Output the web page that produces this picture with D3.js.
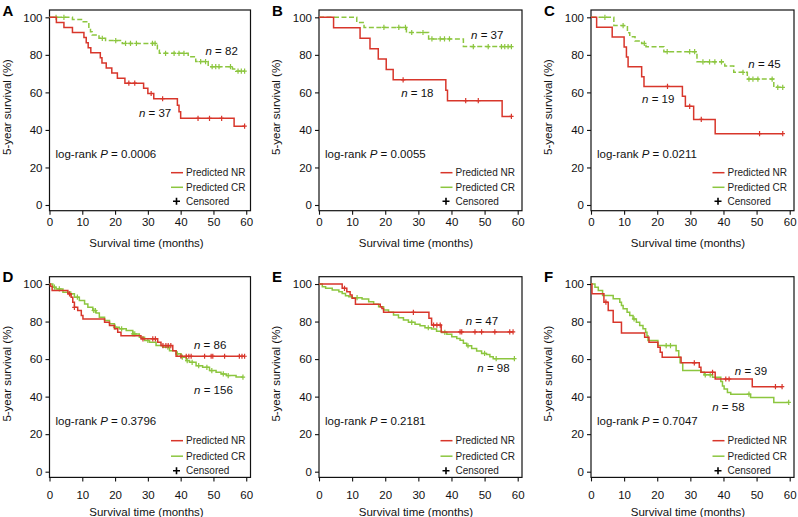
<!DOCTYPE html>
<html><head><meta charset="utf-8">
<script src="https://cdn.jsdelivr.net/npm/d3@7"></script>
<style>
body{margin:0;background:#fff;}
svg{display:block;font-family:"Liberation Sans",Arial,Helvetica,sans-serif;}
</style></head>
<body><svg id="c" width="798" height="517"></svg>
<script>
// ---------- DATA ----------
const panelIds = ["A","B","C","D","E","F"];
const pValues = ["0.0006","0.0055","0.0211","0.3796","0.2181","0.7047"];
const nNR = [37,18,19,86,47,39];
const nCR = [82,37,45,156,98,58];
const xTicks = [0,10,20,30,40,50,60];
const yTicks = [0,20,40,60,80,100];
const seriesNames = ["Predicted NR","Predicted CR","Censored"];

// Panel A
const aNrT = [2.1,4.4,7.0,10.5,11.2,11.8,12.6,15.5,16.0,17.3,19.0,20.7,23.0,28.7,30.0,31.8,39.0,39.5,40.0,56.3];
const aNrS = [97.3,94.6,91.9,89.2,86.5,83.8,81.1,78.4,75.7,73.0,70.3,67.6,64.9,62.2,59.4,56.6,53.2,49.7,46.2,42.0];
const aNrC = [24.2,26.0,31.0,34.5,45.3,48.8,52.5,59.5];
const aCrT = [7.0,10.0,12.0,12.5,13.0,15.1,17.1,22.2,32.9,33.5,42.3,44.6,48.4,55.8,56.8];
const aCrS = [98.8,97.6,94.1,92.3,90.6,88.8,87.6,86.1,82.6,80.8,79.0,76.4,73.7,72.5,71.3];
const aCrC = [2.0,4.4,16.1,20.2,23.2,24.7,26.5,31.4,32.2,35.4,38.0,39.5,41.0,46.1,47.6,49.6,50.7,51.7,55.2,57.5,58.5,59.5];
// Panel B
const bNrT = [4.4,12.4,15.4,17.9,20.3,22.4,38.3,38.8,55.3];
const bNrS = [94.4,88.9,83.3,77.8,72.2,66.7,61.1,55.6,47.2];
const bNrC = [25.4,44.3,48.1,58.1];
const bCrT = [11.4,13.6,26.4,33.1,43.6];
const bCrS = [97.3,94.6,91.9,88.5,84.4];
const bCrC = [19.6,24.1,26.1,28.0,31.4,34.1,36.6,37.9,39.4,46.6,51.1,55.1,56.1,57.1,58.1];
// Panel C
const cNrT = [1.7,6.4,10.0,10.7,11.2,15.3,16.0,27.6,28.5,31.0,37.5];
const cNrS = [94.7,89.5,84.2,78.9,73.7,68.4,63.2,57.9,52.6,45.6,38.0];
const cNrC = [23.1,29.8,33.3,50.9,57.9];
const cCrT = [6.9,11.0,11.7,13.3,15.3,16.6,22.0,32.0,40.4,43.1,47.2,55.2];
const cCrS = [95.6,91.8,89.7,87.4,86.1,84.3,81.7,76.3,74.0,70.7,67.1,62.7];
const cCrC = [4.2,9.7,16.1,23.0,29.8,31.3,33.8,35.8,37.4,39.4,45.9,47.7,48.9,50.4,54.7,56.4,57.9];
// Panel D
const dNrT = [0.3,0.8,5.6,6.6,7.1,7.6,8.6,9.7,10.2,16.8,18.3,19.8,20.8,21.8,27.9,33.0,34.0,37.6,38.6];
const dNrS = [98.8,96.5,94.8,93.0,90.3,87.6,85.9,83.2,81.4,79.6,77.9,76.1,74.3,72.5,70.8,69.0,67.2,64.5,61.5];
const dNrC = [6.1,7.6,28.5,31.5,32.3,34.6,35.5,36.2,37.0,40.1,41.7,42.5,43.2,47.3,49.3,49.8,53.4,57.9,58.7,59.5];
const dCrT = [1.0,2.0,4.1,6.1,7.6,9.1,10.7,11.7,13.2,14.2,15.2,16.8,18.3,19.8,21.3,23.4,25.4,27.4,29.0,30.5,32.5,34.6,36.6,38.6,40.1,41.7,42.7,44.7,46.7,48.8,50.8,52.3,53.9,56.9];
const dCrS = [98.3,97.4,95.6,94.8,93.0,91.2,89.4,87.6,85.9,84.6,82.3,80.5,78.8,77.0,76.1,75.2,73.4,71.6,69.9,69.0,67.2,66.3,64.5,62.8,61.0,59.2,58.3,56.5,55.6,53.9,53.0,52.1,51.2,50.4];
const dCrC = [1.5,3.0,6.5,8.5,13.5,14.0,20.0,22.0,25.5,26.0,30.0,36.1,39.0,40.5,42.0,43.5,45.5,48.0,49.5,53.0,54.5,59.0];
// Panel E
const eNrT = [7.0,8.4,9.4,10.0,11.0,18.5,19.0,19.5,33.2,34.0,36.9];
const eNrS = [97.7,95.9,94.1,92.4,89.2,87.9,87.0,84.9,81.7,78.1,74.5];
const eNrC = [7.7,28.5,34.6,35.6,36.6,42.6,43.1,47.1,49.1,53.1,57.6,58.6];
const eCrT = [1.0,2.0,4.0,6.0,7.0,8.0,9.0,10.0,13.0,15.0,16.5,18.0,19.5,21.0,22.5,24.0,25.5,27.0,29.0,30.5,32.0,34.0,35.5,37.0,38.6,40.1,41.6,42.6,43.6,44.6,46.1,47.6,49.1,50.6,51.6,52.6];
const eCrS = [98.6,97.7,96.8,95.9,95.0,93.8,93.2,92.7,92.0,90.6,89.2,87.9,86.1,84.9,83.5,82.0,80.8,79.6,78.5,77.8,76.7,76.0,74.9,74.2,73.2,71.9,71.0,70.1,68.4,67.1,65.7,64.3,63.0,62.5,61.2,60.2];
const eCrC = [11.5,28.0,33.0,38.0,45.0,50.0,53.5,59.0];
// Panel F
const fNrT = [0.3,3.9,5.2,6.7,9.2,16.2,17.5,20.2,20.9,21.5,27.2,32.7,33.2,37.5,48.7];
const fNrS = [94.8,90.3,85.9,79.6,73.9,71.6,69.0,66.3,63.6,61.0,58.0,55.6,53.0,49.4,45.3];
const fNrC = [4.5,31.2,36.7,40.7,41.7,55.7,57.7];
const fCrT = [1.2,2.2,3.5,6.7,8.7,9.2,9.7,10.9,11.7,12.7,13.7,14.7,15.7,16.5,16.9,17.2,20.2,25.7,26.5,26.9,27.7,33.2,34.2,36.7,39.2,39.7,40.2,41.2,42.2,48.2,55.2];
const fCrS = [98.3,96.5,93.9,92.1,90.3,88.5,86.8,85.0,83.2,81.4,79.6,77.9,76.1,74.3,72.5,69.9,67.2,64.5,61.0,58.0,53.9,53.0,51.6,50.3,48.0,45.6,44.0,42.2,41.3,39.6,36.9];
const fCrC = [13.0,22.7,24.0,34.5,36.0,47.7,59.7];

// ---------- LAYOUT (positions / styles) ----------
const RED = "#d8362b", GREEN = "#8cc63f";
const colLeft = [49.5, 319, 591], colW = [201, 203, 203];
const rowTop = [10, 276.7], plotH = 200.7;
const xTickLabelDy = [11, 17.6], xTitleDy = [32.6, 34.3];
const legendDy = [[-32.3,-17.7,-3.7],[-31,-15.5,-1]];
// n label positions in data coordinates [t, s] for NR and CR labels
const nrLabelPos = [[32.2,48.9],[29.7,59.8],[20.3,56.5],[49,67.6],[49.2,80.3],[48.3,53.8]];
const crLabelPos = [[52.5,82.2],[50.8,90.6],[52.4,75.1],[50,43.7],[52.7,55],[41.5,34.4]];
const dashedCR = [true,true,true,false,false,false];

const nrT=[aNrT,bNrT,cNrT,dNrT,eNrT,fNrT], nrS=[aNrS,bNrS,cNrS,dNrS,eNrS,fNrS], nrC=[aNrC,bNrC,cNrC,dNrC,eNrC,fNrC];
const crT=[aCrT,bCrT,cCrT,dCrT,eCrT,fCrT], crS=[aCrS,bCrS,cCrS,dCrS,eCrS,fCrS], crC=[aCrC,bCrC,cCrC,dCrC,eCrC,fCrC];

const svg = d3.select("#c");
const FS = 11.5;

function survAt(T,S,t){let v=100;for(let i=0;i<T.length;i++){if(T[i]<=t)v=S[i];}return v;}

panelIds.forEach((id,i)=>{
  const col=i%3,row=Math.floor(i/3);
  const L=colLeft[col], W=colW[col], Tp=rowTop[row], B=Tp+plotH;
  const x=d3.scaleLinear().domain([0,61.3]).range([L,L+W]);
  const y=d3.scaleLinear().domain([-3.04,103.9]).range([B,Tp]);
  const g=svg.append("g");

  // box
  g.append("rect").attr("x",L).attr("y",Tp).attr("width",W).attr("height",plotH)
    .attr("fill","none").attr("stroke","#111").attr("stroke-width",1.2);

  // y axis
  const ya=g.append("g").attr("transform",`translate(${L},0)`)
    .call(d3.axisLeft(y).tickValues(yTicks).tickSize(4).tickPadding(3));
  ya.select(".domain").remove();
  ya.selectAll("line").attr("stroke","#111").attr("stroke-width",1.1);
  ya.selectAll("text").attr("font-size",FS).attr("fill","#111").attr("font-family",null);

  // x axis
  const xa=g.append("g").attr("transform",`translate(0,${B})`)
    .call(d3.axisBottom(x).tickValues(xTicks).tickSize(4));
  xa.select(".domain").remove();
  xa.selectAll("line").attr("stroke","#111").attr("stroke-width",1.1);
  xa.selectAll("text").attr("font-size",FS).attr("fill","#111").attr("font-family",null)
    .attr("y",xTickLabelDy[row]).attr("dy","0.35em");

  // titles
  g.append("text").attr("x",L+97).attr("y",B+xTitleDy[row]).attr("dy","0.35em")
    .attr("text-anchor","middle").attr("font-size",FS).attr("fill","#111").text("Survival time (months)");
  g.append("text").attr("transform",`translate(${L-43},${Tp+97}) rotate(-90)`).attr("dy","0.35em")
    .attr("text-anchor","middle").attr("font-size",FS).attr("fill","#111").text("5-year survival (%)");
  g.append("text").attr("x",L-47).attr("y",Tp+5.5).attr("font-size",15).attr("font-weight","bold")
    .attr("fill","#000").text(id);

  // curves
  const line=d3.line().x(d=>x(d[0])).y(d=>y(d[1])).curve(d3.curveStepAfter);
  function drawSeries(T,S,C,color,dashed){
    const end=Math.max(T[T.length-1],C.length?C[C.length-1]:0);
    const pts=[[0,100]].concat(T.map((t,k)=>[t,S[k]]));
    pts.push([end,S[S.length-1]]);
    g.append("path").attr("d",line(pts)).attr("fill","none").attr("stroke",color)
      .attr("stroke-width",1.5).attr("stroke-dasharray",dashed?"5,2.5":null);
    C.forEach(t=>{
      const cx=x(t), cy=y(survAt(T,S,t));
      g.append("path").attr("d",`M${cx},${cy-2.6}V${cy+2.6}M${cx-2.2},${cy}H${cx+2.2}`)
        .attr("stroke",color).attr("stroke-width",1.2).attr("fill","none");
    });
  }
  drawSeries(crT[i],crS[i],crC[i],GREEN,dashedCR[i]);
  drawSeries(nrT[i],nrS[i],nrC[i],RED,false);

  // n labels
  function nLabel(pos,n){
    const t=g.append("text").attr("x",x(pos[0])).attr("y",y(pos[1])).attr("dy","0.35em")
      .attr("text-anchor","middle").attr("font-size",FS).attr("fill","#111");
    t.append("tspan").attr("font-style","italic").text("n");
    t.append("tspan").text(" = "+n);
  }
  nLabel(nrLabelPos[i],nNR[i]);
  nLabel(crLabelPos[i],nCR[i]);

  // log-rank
  const lr=g.append("text").attr("x",L+6).attr("y",y(27.2)).attr("dy","0.35em")
    .attr("font-size",FS).attr("fill","#111");
  lr.append("tspan").text("log-rank ");
  lr.append("tspan").attr("font-style","italic").text("P");
  lr.append("tspan").text(" = "+pValues[i]);

  // legend
  const y0=y(0), ld=legendDy[row];
  const lx0=L+121.5, lx1=L+133.5, tx=L+136.5;
  [[RED,0],[GREEN,1]].forEach(([c,k])=>{
    g.append("line").attr("x1",lx0).attr("x2",lx1).attr("y1",y0+ld[k]).attr("y2",y0+ld[k])
      .attr("stroke",c).attr("stroke-width",1.5);
    g.append("text").attr("x",tx).attr("y",y0+ld[k]).attr("dy","0.35em").attr("font-size",10)
      .attr("fill","#222").text(seriesNames[k]);
  });
  const px=L+127, py=y0+ld[2];
  g.append("path").attr("d",`M${px-3.5},${py}H${px+3.5}M${px},${py-3.5}V${py+3.5}`)
    .attr("stroke","#000").attr("stroke-width",1.6);
  g.append("text").attr("x",tx).attr("y",py).attr("dy","0.35em").attr("font-size",10)
    .attr("fill","#222").text(seriesNames[2]);
});
</script>
</body></html>
